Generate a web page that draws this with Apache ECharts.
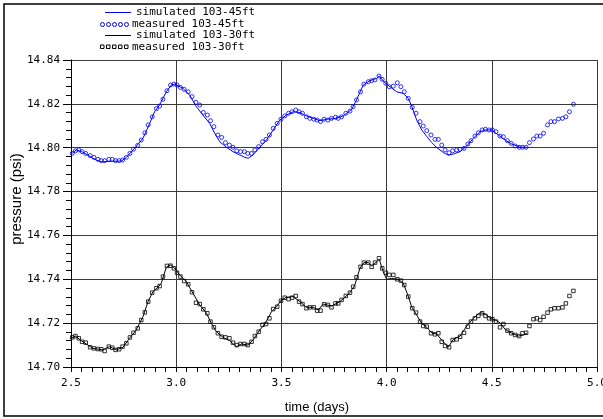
<!DOCTYPE html>
<html>
<head>
<meta charset="utf-8">
<script src="https://cdn.jsdelivr.net/npm/echarts@6/dist/echarts.min.js"></script>
<style>
  html, body { margin: 0; padding: 0; background: #fff; overflow: hidden; }
  #chart { width: 603px; height: 419px; }
</style>
</head>
<body>
<div id="chart"></div>
<script>
// Shared sampling times (days) of the logged pressures
const measuredTime = [
  2.506, 2.521, 2.537, 2.553, 2.570, 2.591, 2.609, 2.628, 2.644, 2.660,
  2.680, 2.696, 2.712, 2.729, 2.745, 2.763, 2.780, 2.797, 2.817, 2.834,
  2.851, 2.867, 2.886, 2.906, 2.921, 2.937, 2.956, 2.973, 2.989, 3.004,
  3.020, 3.038, 3.057, 3.075, 3.094, 3.112, 3.129, 3.148, 3.163, 3.179,
  3.198, 3.216, 3.234, 3.253, 3.270, 3.288, 3.306, 3.324, 3.340, 3.358,
  3.374, 3.392, 3.410, 3.427, 3.443, 3.461, 3.480, 3.498, 3.516, 3.534,
  3.551, 3.568, 3.584, 3.600, 3.619, 3.635, 3.654, 3.670, 3.686, 3.703,
  3.721, 3.738, 3.757,
  3.770, 3.786, 3.806, 3.826, 3.841, 3.857, 3.876, 3.892, 3.913, 3.929,
  3.945, 3.964, 3.979, 3.996, 4.013, 4.032, 4.051, 4.068, 4.084, 4.103,
  4.122, 4.140, 4.159, 4.174, 4.191, 4.211, 4.230, 4.246, 4.262, 4.278,
  4.297, 4.314, 4.333, 4.349, 4.368, 4.386, 4.401, 4.420, 4.436, 4.454,
  4.470, 4.487, 4.503, 4.520, 4.539, 4.555, 4.574, 4.592, 4.611, 4.630,
  4.646, 4.663, 4.679, 4.698, 4.714, 4.730, 4.746, 4.765, 4.781, 4.798,
  4.817, 4.836, 4.852, 4.869, 4.888
];

// Measured pressure (psi) at 103-45ft
const measured45 = [
  14.7974, 14.7986, 14.7990, 14.7982, 14.7974, 14.7964, 14.7956, 14.7947, 14.7941, 14.7941,
  14.7947, 14.7947, 14.7941, 14.7941, 14.7944, 14.7956, 14.7974, 14.7993, 14.8011, 14.8035,
  14.8068, 14.8104, 14.8141, 14.8178, 14.8190, 14.8221, 14.8260, 14.8286, 14.8290, 14.8286,
  14.8275, 14.8266, 14.8255, 14.8233, 14.8207, 14.8195, 14.8161, 14.8149, 14.8123, 14.8096,
  14.8058, 14.8047, 14.8023, 14.8012, 14.8002, 14.7986, 14.7982, 14.7982, 14.7974, 14.7974,
  14.7990, 14.8005, 14.8027, 14.8038, 14.8058, 14.8088, 14.8111, 14.8130, 14.8145, 14.8157,
  14.8164, 14.8172, 14.8164, 14.8157, 14.8141, 14.8134, 14.8130, 14.8126, 14.8119, 14.8130,
  14.8126, 14.8134, 14.8139,
  14.8134, 14.8141, 14.8157, 14.8167, 14.8187, 14.8218, 14.8255, 14.8290, 14.8301, 14.8306,
  14.8309, 14.8327, 14.8312, 14.8294, 14.8278, 14.8281, 14.8296, 14.8278, 14.8255, 14.8225,
  14.8184, 14.8157, 14.8119, 14.8099, 14.8078, 14.8058, 14.8038, 14.8038, 14.8012, 14.7990,
  14.7977, 14.7986, 14.7990, 14.7993, 14.7997, 14.8017, 14.8032, 14.8053, 14.8068, 14.8081,
  14.8084, 14.8081, 14.8081, 14.8073, 14.8053, 14.8050, 14.8032, 14.8020, 14.8008, 14.8002,
  14.8002, 14.8002, 14.8023, 14.8040, 14.8053, 14.8053, 14.8066, 14.8104, 14.8119, 14.8119,
  14.8131, 14.8134, 14.8141, 14.8164, 14.8198
];

// Measured pressure (psi) at 103-30ft
const measured30 = [
  14.7135, 14.7141, 14.7131, 14.7115, 14.7111, 14.7090, 14.7085, 14.7082, 14.7081, 14.7073,
  14.7093, 14.7088, 14.7078, 14.7081, 14.7093, 14.7108, 14.7135, 14.7156, 14.7176, 14.7214,
  14.7249, 14.7298, 14.7339, 14.7359, 14.7369, 14.7412, 14.7461, 14.7462, 14.7450, 14.7430,
  14.7412, 14.7392, 14.7377, 14.7341, 14.7293, 14.7287, 14.7263, 14.7245, 14.7207, 14.7181,
  14.7154, 14.7138, 14.7135, 14.7131, 14.7111, 14.7100, 14.7105, 14.7105, 14.7100, 14.7115,
  14.7141, 14.7161, 14.7192, 14.7196, 14.7222, 14.7264, 14.7275, 14.7302, 14.7316, 14.7309,
  14.7316, 14.7324, 14.7298, 14.7287, 14.7268, 14.7272, 14.7272, 14.7257, 14.7257, 14.7286,
  14.7283, 14.7272, 14.7290,
  14.7290, 14.7306, 14.7324, 14.7339, 14.7366, 14.7409, 14.7457, 14.7476, 14.7476, 14.7457,
  14.7476, 14.7496, 14.7450, 14.7430, 14.7420, 14.7420, 14.7400, 14.7394, 14.7374, 14.7321,
  14.7268, 14.7248, 14.7207, 14.7187, 14.7184, 14.7154, 14.7149, 14.7154, 14.7115, 14.7096,
  14.7090, 14.7123, 14.7126, 14.7138, 14.7156, 14.7184, 14.7207, 14.7222, 14.7233, 14.7245,
  14.7233, 14.7222, 14.7218, 14.7207, 14.7181, 14.7196, 14.7166, 14.7154, 14.7146, 14.7141,
  14.7154, 14.7156, 14.7187, 14.7218, 14.7222, 14.7214, 14.7229, 14.7248, 14.7263, 14.7268,
  14.7268, 14.7272, 14.7290, 14.7324, 14.7347
];

// Simulated pressure at 103-45ft
const sim45Time = [
  2.501, 2.525, 2.549, 2.579, 2.602, 2.620, 2.644, 2.691, 2.739, 2.763,
  2.802, 2.842, 2.874, 2.897, 2.921, 2.953, 2.977, 2.993, 3.032, 3.064,
  3.096, 3.127, 3.159, 3.183, 3.207, 3.239, 3.270, 3.302, 3.326, 3.342,
  3.365, 3.397, 3.429, 3.461, 3.492, 3.524, 3.556, 3.588, 3.619, 3.651,
  3.683, 3.715, 3.762, 3.794, 3.834, 3.857, 3.889, 3.921, 3.953, 3.965,
  3.992, 4.016, 4.048, 4.079, 4.103, 4.119, 4.143, 4.167, 4.191, 4.214,
  4.238, 4.270, 4.293, 4.317, 4.349, 4.381, 4.412, 4.444, 4.468, 4.500,
  4.531, 4.563, 4.595, 4.635, 4.667
];
const sim45 = [
  14.7970, 14.7990, 14.7983, 14.7967, 14.7953, 14.7944, 14.7936, 14.7938, 14.7939, 14.7956,
  14.7997, 14.8043, 14.8111, 14.8164, 14.8195, 14.8255, 14.8286, 14.8290, 14.8271, 14.8240,
  14.8187, 14.8149, 14.8111, 14.8066, 14.8027, 14.8002, 14.7982, 14.7967, 14.7956, 14.7952,
  14.7967, 14.8002, 14.8035, 14.8081, 14.8126, 14.8149, 14.8164, 14.8160, 14.8145, 14.8134,
  14.8123, 14.8130, 14.8134, 14.8145, 14.8175, 14.8218, 14.8286, 14.8306, 14.8316, 14.8327,
  14.8296, 14.8278, 14.8255, 14.8248, 14.8225, 14.8190, 14.8126, 14.8081, 14.8051, 14.8024,
  14.8001, 14.7978, 14.7966, 14.7971, 14.7982, 14.8008, 14.8043, 14.8073, 14.8081, 14.8081,
  14.8058, 14.8035, 14.8017, 14.8002, 14.8002
];

// Simulated pressure at 103-30ft
const sim30Time = [
  2.501, 2.521, 2.550, 2.604, 2.651, 2.683, 2.715, 2.747, 2.778, 2.810,
  2.842, 2.866, 2.889, 2.913, 2.929, 2.953, 2.974, 2.993, 3.016, 3.048,
  3.080, 3.112, 3.144, 3.167, 3.191, 3.223, 3.254, 3.286, 3.310, 3.342,
  3.365, 3.397, 3.421, 3.453, 3.477, 3.500, 3.524, 3.556, 3.588, 3.619,
  3.651, 3.675, 3.699, 3.738, 3.778, 3.826, 3.849, 3.873, 3.892, 3.913,
  3.929, 3.953, 3.965, 3.984, 4.000, 4.024, 4.056, 4.079, 4.098, 4.119,
  4.143, 4.167, 4.191, 4.214, 4.238, 4.262, 4.293, 4.317, 4.349, 4.381,
  4.412, 4.444, 4.468, 4.492, 4.516, 4.539, 4.563, 4.595, 4.627, 4.650,
  4.667
];
const sim30 = [
  14.7131, 14.7141, 14.7119, 14.7085, 14.7078, 14.7093, 14.7078, 14.7090, 14.7131, 14.7169,
  14.7229, 14.7298, 14.7343, 14.7363, 14.7382, 14.7455, 14.7465, 14.7450, 14.7420, 14.7389,
  14.7336, 14.7283, 14.7245, 14.7199, 14.7161, 14.7135, 14.7120, 14.7093, 14.7105, 14.7100,
  14.7123, 14.7169, 14.7196, 14.7252, 14.7275, 14.7306, 14.7318, 14.7321, 14.7298, 14.7272,
  14.7272, 14.7260, 14.7287, 14.7278, 14.7298, 14.7339, 14.7374, 14.7450, 14.7476, 14.7476,
  14.7461, 14.7480, 14.7491, 14.7435, 14.7400, 14.7404, 14.7400, 14.7382, 14.7336, 14.7275,
  14.7237, 14.7199, 14.7181, 14.7156, 14.7150, 14.7123, 14.7090, 14.7126, 14.7141, 14.7187,
  14.7222, 14.7248, 14.7242, 14.7222, 14.7214, 14.7202, 14.7172, 14.7154, 14.7141, 14.7146,
  14.7154
];

const seriesNames = ['simulated 103-45ft', 'measured 103-45ft', 'simulated 103-30ft', 'measured 103-30ft'];
const xAxisTitle = 'time (days)';
const yAxisTitle = 'pressure (psi)';

const zip = (xs, ys) => xs.map((x, i) => [x, ys[i]]);

const BLUE = '#0000ff';
const MONO = '"DejaVu Sans Mono", "Liberation Mono", monospace';
const SANS = '"Liberation Sans", Arial, sans-serif';

// Legend block drawn by hand: line / marker rows
const legendGraphics = [];
const rowY = [12.5, 24.5, 35.5, 47];
legendGraphics.push({ type: 'line', shape: { x1: 105, y1: rowY[0], x2: 131, y2: rowY[0] }, style: { stroke: BLUE, lineWidth: 1 } });
legendGraphics.push({ type: 'line', shape: { x1: 105, y1: rowY[2], x2: 131, y2: rowY[2] }, style: { stroke: '#000', lineWidth: 1 } });
for (let i = 0; i < 5; i++) {
  legendGraphics.push({ type: 'circle', shape: { cx: 102.5 + 6 * i, cy: rowY[1], r: 2 }, style: { fill: 'none', stroke: BLUE, lineWidth: 1 } });
  legendGraphics.push({ type: 'rect', shape: { x: 100.5 + 6 * i, y: rowY[3] - 2, width: 3.5, height: 3.5 }, style: { fill: 'none', stroke: '#000', lineWidth: 1 } });
}
[[136, 0], [132, 1], [136, 2], [132, 3]].forEach(([x, k]) => {
  legendGraphics.push({
    type: 'text', x: x, y: rowY[k],
    style: { text: seriesNames[k], font: '11px ' + MONO, fill: '#000', textVerticalAlign: 'middle' }
  });
});

const chart = echarts.init(document.getElementById('chart'), null, { renderer: 'canvas' });

chart.setOption({
  animation: false,
  backgroundColor: '#fff',
  grid: { left: 71, right: 6, top: 60, bottom: 52, containLabel: false, outerBoundsMode: 'none' },
  xAxis: {
    type: 'value', min: 2.5, max: 5.0, interval: 0.5,
    axisLine: { show: true, lineStyle: { color: '#000', width: 1 } },
    axisTick: { show: true, inside: false, length: 5, lineStyle: { color: '#000' } },
    minorTick: { show: true, splitNumber: 10, length: 5, lineStyle: { color: '#000' } },
    splitLine: { show: true, lineStyle: { color: '#3a3a3a', width: 1 } },
    axisLabel: { margin: 11, color: '#000', fontFamily: MONO, fontSize: 11, formatter: v => v.toFixed(1) }
  },
  yAxis: {
    type: 'value', min: 14.70, max: 14.84, interval: 0.02,
    axisLine: { show: true, lineStyle: { color: '#000', width: 1 } },
    axisTick: { show: true, inside: false, length: 8, lineStyle: { color: '#000' } },
    minorTick: { show: true, splitNumber: 5, length: 5, lineStyle: { color: '#000' } },
    splitLine: { show: true, lineStyle: { color: '#3a3a3a', width: 1 } },
    axisLabel: { margin: 11, color: '#000', fontFamily: MONO, fontSize: 11, formatter: v => v.toFixed(2) }
  },
  graphic: [
    // figure frame
    { type: 'rect', shape: { x: 4, y: 4, width: 700, height: 412 }, style: { fill: 'none', stroke: '#000', lineWidth: 1.5 }, silent: true },
    { type: 'text', x: 317, y: 407, style: { text: xAxisTitle, font: '13px ' + SANS, fill: '#000', textAlign: 'center', textVerticalAlign: 'middle' } },
    { type: 'text', x: 17, y: 199, rotation: Math.PI / 2, style: { text: yAxisTitle, font: '15px ' + SANS, fill: '#000', textAlign: 'center', textVerticalAlign: 'middle' } },
    ...legendGraphics
  ],
  series: [
    {
      name: seriesNames[0], type: 'line', data: zip(sim45Time, sim45),
      showSymbol: false, lineStyle: { color: BLUE, width: 1 }, z: 2
    },
    {
      name: seriesNames[1], type: 'scatter', data: zip(measuredTime, measured45),
      symbol: 'circle', symbolSize: 4,
      itemStyle: { color: 'rgba(255,255,255,0)', borderColor: BLUE, borderWidth: 1 }, z: 3
    },
    {
      name: seriesNames[2], type: 'line', data: zip(sim30Time, sim30),
      showSymbol: false, lineStyle: { color: '#000', width: 1 }, z: 2
    },
    {
      name: seriesNames[3], type: 'scatter', data: zip(measuredTime, measured30),
      symbol: 'rect', symbolSize: 3.5,
      itemStyle: { color: 'rgba(255,255,255,0)', borderColor: '#000', borderWidth: 1 }, z: 3
    }
  ]
});
</script>
</body>
</html>
